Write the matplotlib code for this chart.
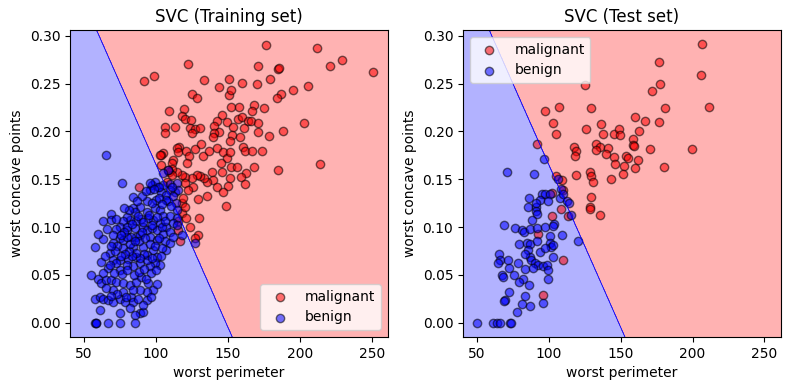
import numpy as np
import matplotlib
matplotlib.use("Agg")
import matplotlib.pyplot as plt
from matplotlib.colors import ListedColormap

# ---- data (worst perimeter, worst concave points) ----
train_malignant_x = [122.4, 98.7, 92.0, 133.5, 144.0, 125.2, 128.6, 150.9, 150.5, 109.1, 119.6, 117.8, 120.1, 124.0,
                     146.0, 142.1, 149.5, 106.4, 113.3, 123.6, 127.0, 130.5, 106.4, 124.7, 140.3, 144.0, 140.3, 139.8,
                     176.7, 212.2, 229.6, 221.3, 251.2, 171.1, 185.0, 185.5, 160.0, 170.4, 179.5, 206.0, 195.5, 187.1,
                     184.3, 152.3, 152.3, 157.9, 168.3, 166.5, 175.3, 157.2, 160.0, 164.2, 165.8, 170.7, 153.7, 161.4,
                     202.7, 188.5, 171.1, 178.6, 152.6, 158.4,
                     151.4, 115.7, 114.3, 105.0, 103.8, 111.9, 110.8, 115.4, 120.8, 122.9, 121.7, 127.0, 131.0, 132.8,
                     136.6, 142.6, 146.5, 149.1, 144.9, 151.4, 152.1, 156.1, 160.3, 161.9, 166.9, 173.5, 162.6, 159.1,
                     151.4, 145.8, 138.7, 139.8, 135.2, 133.3, 130.5, 128.2, 124.7, 120.1, 117.8, 114.3, 111.2, 109.1,
                     107.7, 125.9, 129.3, 135.2, 142.6, 150.2, 148.4, 161.9, 184.8, 168.1,
                     146.3, 117.8, 117.8, 120.6, 130.0, 123.6, 129.3, 127.0, 116.6, 115.5, 115.5, 88.0,
                     102.7, 103.8, 110.8, 120.1, 122.4, 118.9, 120.1, 108.4, 214.1]
train_malignant_y = [0.270, 0.258, 0.253, 0.254, 0.246, 0.239, 0.235, 0.255, 0.238, 0.221, 0.223, 0.216, 0.213, 0.212,
                     0.217, 0.211, 0.210, 0.205, 0.205, 0.204, 0.202, 0.204, 0.198, 0.198, 0.206, 0.199, 0.198, 0.194,
                     0.290, 0.287, 0.275, 0.268, 0.262, 0.268, 0.265, 0.266, 0.251, 0.250, 0.255, 0.247, 0.243, 0.239,
                     0.235, 0.243, 0.225, 0.225, 0.228, 0.221, 0.224, 0.213, 0.215, 0.211, 0.211, 0.209, 0.205, 0.204,
                     0.209, 0.200, 0.199, 0.195, 0.196, 0.194,
                     0.190, 0.184, 0.183, 0.177, 0.175, 0.170, 0.167, 0.178, 0.179, 0.174, 0.167, 0.182, 0.187, 0.174,
                     0.180, 0.183, 0.178, 0.172, 0.167, 0.178, 0.163, 0.163, 0.184, 0.179, 0.179, 0.179, 0.156, 0.152,
                     0.151, 0.157, 0.157, 0.149, 0.147, 0.151, 0.153, 0.154, 0.151, 0.152, 0.154, 0.158, 0.161, 0.158,
                     0.147, 0.142, 0.129, 0.132, 0.142, 0.143, 0.122, 0.145, 0.160, 0.163,
                     0.137, 0.125, 0.115, 0.109, 0.109, 0.100, 0.092, 0.088, 0.085, 0.106, 0.097, 0.142,
                     0.175, 0.165, 0.154, 0.146, 0.139, 0.130, 0.121, 0.160, 0.166]

train_benign_x = [65.5, 76.4, 96.9, 95.7, 101.5, 105.0, 109.6, 114.3, 113.1, 115.4, 109.6, 103.8, 107.3, 99.9, 108.4,
                  113.8, 114.3, 93.4, 88.7, 84.1, 85.3, 93.4, 99.2, 102.7, 105.0, 109.6, 114.3, 111.9, 107.3, 102.7,
                  98.0, 94.5, 89.9, 86.4, 81.8, 79.5, 77.1, 74.8, 72.5, 69.0, 69.0, 63.2, 70.1, 79.5, 85.3, 91.0,
                  93.4, 96.9, 100.4, 105.0, 109.6, 114.3, 117.8, 63.2, 74.8, 86.4, 95.7, 99.2,
                  108.4, 105.0, 95.7, 102.2, 110.8, 111.9, 107.3, 84.1,
                  57.4, 70.1, 77.1, 82.9, 88.7, 100.4, 106.1, 107.3, 98.0, 91.0, 84.1, 77.1, 67.8, 70.1, 74.8, 80.6,
                  86.4, 93.4, 100.4, 102.7, 99.2, 95.7, 88.7, 84.1, 79.5, 74.8, 72.5, 66.7, 63.2, 59.7, 55.1, 62.1,
                  65.5, 69.0, 72.5, 77.1, 81.8, 86.4, 89.9, 94.5, 98.0, 93.4, 88.7, 82.9, 77.1, 70.1, 65.5, 57.4,
                  60.9, 63.2, 66.7, 70.1, 74.8, 78.3, 84.1, 87.5, 93.4, 81.8, 74.8, 88.7, 91.0, 85.3, 60.9, 57.4,
                  58.0, 58.6, 66.7, 74.8, 85.3, 127.0,
                  80.0, 83.0, 87.5, 91.0, 95.0, 97.5, 101.0, 104.0, 106.5, 90.0, 88.0, 92.5, 96.0, 99.0, 102.0,
                  104.5, 94.0, 97.0, 91.5, 89.0, 86.0, 83.0, 81.0, 78.5, 76.0, 82.0, 85.5, 80.0, 78.0, 75.5, 73.0,
                  71.5, 68.5, 97.0, 102.0, 104.5, 110.5, 90.5, 93.0, 98.5, 87.0, 81.0, 77.5, 72.0, 66.0, 60.0, 62.0,
                  64.5, 68.0, 70.5, 76.5, 80.0, 84.5, 88.5, 91.5, 96.5, 100.0, 93.0, 84.0, 79.0, 73.0, 68.5, 91.0,
                  96.5, 100.5, 103.5, 110.0, 112.0]
train_benign_y = [0.175, 0.146, 0.144, 0.139, 0.142, 0.144, 0.145, 0.146, 0.137, 0.139, 0.139, 0.137, 0.133, 0.128,
                  0.127, 0.125, 0.118, 0.127, 0.121, 0.120, 0.116, 0.116, 0.120, 0.118, 0.111, 0.111, 0.109, 0.104,
                  0.100, 0.104, 0.107, 0.109, 0.108, 0.106, 0.107, 0.110, 0.106, 0.100, 0.098, 0.114, 0.107, 0.106,
                  0.092, 0.097, 0.099, 0.100, 0.097, 0.099, 0.097, 0.093, 0.095, 0.102, 0.092, 0.087, 0.088, 0.090,
                  0.090, 0.147,
                  0.160, 0.156, 0.146, 0.142, 0.142, 0.132, 0.128, 0.131,
                  0.079, 0.083, 0.086, 0.090, 0.092, 0.086, 0.085, 0.076, 0.076, 0.079, 0.079, 0.078, 0.073, 0.066,
                  0.066, 0.067, 0.069, 0.071, 0.069, 0.060, 0.062, 0.059, 0.062, 0.059, 0.060, 0.055, 0.062, 0.057,
                  0.052, 0.046, 0.050, 0.041, 0.045, 0.045, 0.043, 0.041, 0.039, 0.043, 0.048, 0.041, 0.034, 0.032,
                  0.034, 0.027, 0.032, 0.034, 0.036, 0.025, 0.027, 0.025, 0.024, 0.022, 0.025, 0.022, 0.022, 0.025,
                  0.024, 0.015, 0.010, 0.010, 0.011, 0.008, 0.013, 0.0, 0.0, 0.0, 0.0, 0.0, 0.0, 0.083,
                  0.100, 0.103, 0.112, 0.105, 0.113, 0.102, 0.110, 0.100, 0.106, 0.095, 0.085, 0.088, 0.082, 0.080,
                  0.088, 0.078, 0.065, 0.068, 0.072, 0.068, 0.073, 0.070, 0.075, 0.072, 0.070, 0.082, 0.085, 0.090,
                  0.095, 0.092, 0.080, 0.075, 0.080, 0.125, 0.130, 0.124, 0.122, 0.132, 0.138, 0.140, 0.127, 0.118,
                  0.120, 0.108, 0.098, 0.093, 0.063, 0.070, 0.060, 0.052, 0.051, 0.055, 0.050, 0.053, 0.056, 0.052,
                  0.055, 0.046, 0.034, 0.027, 0.030, 0.028, 0.018, 0.027, 0.040, 0.070, 0.083, 0.090]

test_malignant_x = [125.1, 97.5, 107.0, 129.7, 103.1, 104.9, 125.8, 136.7, 137.8, 145.2, 148.9, 149.9, 117.6, 118.8,
                    118.1, 132.7, 135.5, 141.3, 133.2, 140.1, 145.4, 153.6, 91.9,
                    206.6, 176.7, 205.9, 177.4, 171.8, 180.9, 211.5, 160.0, 167.0, 176.7, 162.8, 158.6, 158.6, 159.1,
                    170.3, 199.7, 145.9, 155.2, 162.1, 152.2, 159.8, 180.2, 151.7, 143.4, 135.5,
                    105.4, 108.9, 118.8, 128.5, 129.7, 130.8, 102.6, 109.6, 129.7, 128.5, 129.0, 108.2, 113.5, 102.3,
                    92.6, 110.0, 95.7]
test_malignant_y = [0.248, 0.221, 0.225, 0.224, 0.209, 0.197, 0.202, 0.208, 0.197, 0.197, 0.202, 0.196, 0.184, 0.179,
                    0.174, 0.187, 0.184, 0.183, 0.181, 0.176, 0.173, 0.174, 0.187,
                    0.291, 0.273, 0.259, 0.250, 0.242, 0.224, 0.226, 0.215, 0.211, 0.210, 0.200, 0.192, 0.186, 0.185,
                    0.182, 0.182, 0.166, 0.172, 0.170, 0.164, 0.162, 0.163, 0.155, 0.150, 0.113,
                    0.153, 0.149, 0.154, 0.158, 0.153, 0.147, 0.136, 0.139, 0.131, 0.121, 0.119, 0.119, 0.112, 0.112,
                    0.093, 0.066, 0.029]

test_benign_x = [96.8, 71.3, 89.9, 106.5, 108.2, 95.0, 97.3, 100.8, 86.4, 93.8, 99.6, 85.7, 91.0, 91.0, 91.9, 107.7,
                 110.0, 112.4, 113.9, 115.8, 88.7, 103.7, 69.0, 76.4, 81.1, 82.9, 86.8, 91.9, 97.3, 103.0, 108.9,
                 101.2, 120.4, 79.4, 84.6, 86.9, 91.5, 100.8, 101.9, 103.0, 85.7, 86.9, 83.4, 93.8, 97.3, 103.0,
                 88.0, 90.3, 92.6, 96.1, 98.5, 65.5, 66.0, 64.8, 71.8, 78.7, 72.5, 83.4, 89.1, 99.6, 67.2, 68.3,
                 75.7, 82.2, 79.4, 86.4, 99.6, 72.5, 69.5, 69.0, 83.4, 81.5, 87.3, 95.7, 77.6, 50.2, 61.3, 63.7,
                 66.0, 73.0, 73.5, 91.0]
test_benign_y = [0.171, 0.157, 0.155, 0.150, 0.140, 0.134, 0.135, 0.135, 0.130, 0.128, 0.127, 0.121, 0.121, 0.117,
                 0.114, 0.130, 0.134, 0.127, 0.125, 0.113, 0.107, 0.103, 0.102, 0.099, 0.097, 0.095, 0.098, 0.099,
                 0.100, 0.101, 0.092, 0.091, 0.085, 0.082, 0.083, 0.082, 0.085, 0.083, 0.079, 0.081, 0.076, 0.069,
                 0.072, 0.074, 0.078, 0.069, 0.066, 0.062, 0.060, 0.059, 0.060, 0.072, 0.066, 0.062, 0.065, 0.062,
                 0.057, 0.056, 0.057, 0.055, 0.050, 0.048, 0.050, 0.046, 0.042, 0.039, 0.046, 0.032, 0.024, 0.023,
                 0.028, 0.019, 0.017, 0.021, 0.011, 0.0, 0.0, 0.0, 0.0, 0.0, 0.0, 0.125]

class_names = ["malignant", "benign"]
titles = ["SVC (Training set)", "SVC (Test set)"]
x_label = "worst perimeter"
y_label = "worst concave points"

# linear SVC decision function: w0*x + w1*y + b  (>0 -> malignant)
svc_w = [1.0, 294.0]
svc_b = -148.6
x_range = [50.41, 251.2]
y_range = [0.0, 0.291]

cmap = ListedColormap(("red", "blue"))

fig, axes = plt.subplots(1, 2, figsize=(7.9, 3.9), dpi=100)
fig.subplots_adjust(left=0.089, right=0.988, bottom=0.136, top=0.923, wspace=0.237)

xs = np.linspace(x_range[0] - 10, x_range[1] + 10, 900)
ys = np.linspace(y_range[0] - 0.015, y_range[1] + 0.015, 900)
XX, YY = np.meshgrid(xs, ys)
F = svc_w[0] * XX + svc_w[1] * YY + svc_b
Z = np.where(F > 0, 0, 1)

sets = [
    ((train_malignant_x, train_malignant_y), (train_benign_x, train_benign_y), "lower right"),
    ((test_malignant_x, test_malignant_y), (test_benign_x, test_benign_y), "upper left"),
]

for ax, title, (mal, ben, loc) in zip(axes, titles, sets):
    ax.contourf(XX, YY, Z, levels=[-0.5, 0.5, 1.5], cmap=cmap, alpha=0.3)
    ax.contour(XX, YY, F, levels=[0], colors="blue", linewidths=0.6)
    ax.scatter(mal[0], mal[1], color=cmap(0), alpha=0.55, edgecolors="black", s=36, label=class_names[0])
    ax.scatter(ben[0], ben[1], color=cmap(1), alpha=0.55, edgecolors="black", s=36, label=class_names[1])
    ax.set_xlim(xs[0], xs[-1])
    ax.set_ylim(ys[0], ys[-1])
    ax.set_title(title)
    ax.set_xlabel(x_label)
    ax.set_ylabel(y_label)
    ax.legend(loc=loc)

fig.savefig("out.png")
